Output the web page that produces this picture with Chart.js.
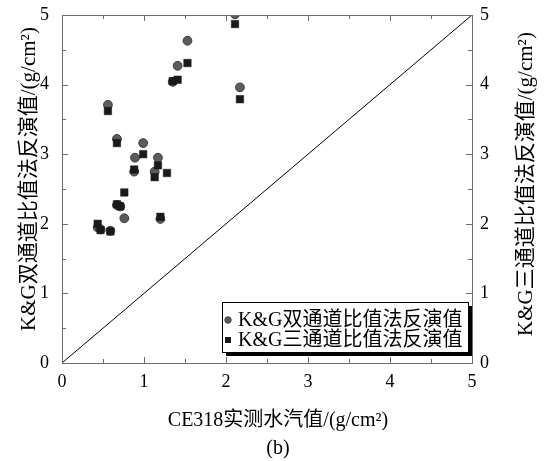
<!DOCTYPE html>
<html>
<head>
<meta charset="utf-8">
<script src="https://cdn.jsdelivr.net/npm/chart.js@4/dist/chart.umd.min.js"></script>
<style>
html,body{margin:0;padding:0;background:#fff;}
#wrap{width:560px;height:461px;position:relative;}
</style>
</head>
<body>
<div id="wrap"><canvas id="c" width="560" height="461"></canvas></div>
<script>
// ---- data ----
const dualX = [0.435,0.47,0.59,0.56,0.67,0.67,0.71,0.76,0.88,0.89,0.99,1.13,1.17,1.20,1.35,1.41,1.53,2.11,2.17];
const dualY = [1.95,1.92,1.90,3.71,3.22,2.27,2.25,2.08,2.75,2.95,3.16,2.75,2.95,2.07,4.04,4.27,4.63,5.01,3.96];
const triX  = [0.435,0.47,0.59,0.56,0.67,0.67,0.71,0.76,0.88,0.99,1.13,1.17,1.20,1.28,1.35,1.41,1.53,2.11,2.17];
const triY  = [2.00,1.91,1.89,3.62,3.16,2.28,2.25,2.45,2.78,3.00,2.67,2.84,2.10,2.73,4.05,4.07,4.31,4.87,3.79];
const lineX = [0,5];
const lineY = [0,5];
const axisMin = 0, axisMax = 5;
const dualLabel = 'K&G双通道比值法反演值';
const triLabel  = 'K&G三通道比值法反演值';
const xTitle = 'CE318实测水汽值/(g/cm²)';
const yTitle = 'K&G双通道比值法反演值/(g/cm²)';
const y2Title = 'K&G三通道比值法反演值/(g/cm²)';
const caption = '(b)';

const FONT = "'Liberation Serif','Noto Sans CJK SC',serif";
const toPts = (xs, ys) => xs.map((x, i) => ({x, y: ys[i]}));

const framePlugin = {
  id: 'frame',
  afterDatasetsDraw(chart) {
    const {ctx, chartArea: a, scales} = chart;
    ctx.save();
    ctx.strokeStyle = '#6e6e6e';
    ctx.lineWidth = 1;
    ctx.strokeRect(Math.round(a.left)+0.5, Math.round(a.top)+0.5, Math.round(a.right-a.left), Math.round(a.bottom-a.top));
    ctx.beginPath();
    for (let v = axisMin; v <= axisMax + 1e-9; v += 0.5) {
      const major = Math.abs(v - Math.round(v)) < 1e-9;
      const L = major ? 6 : 4;
      const px = Math.round(scales.x.getPixelForValue(v)) + 0.5;
      const py = Math.round(scales.y.getPixelForValue(v)) + 0.5;
      ctx.moveTo(px, a.bottom); ctx.lineTo(px, a.bottom - L);
      ctx.moveTo(px, a.top); ctx.lineTo(px, a.top + L);
      ctx.moveTo(a.left, py); ctx.lineTo(a.left + L, py);
      ctx.moveTo(a.right, py); ctx.lineTo(a.right - L, py);
    }
    ctx.stroke();
    ctx.restore();
  },
  afterDraw(chart) {
    const {ctx, chartArea: a} = chart;
    ctx.save();
    ctx.fillStyle = '#000';
    ctx.textAlign = 'center';
    ctx.textBaseline = 'middle';
    ctx.font = "20px " + FONT;
    ctx.fillText(xTitle, 278, 421);
    ctx.fillText(caption, 278, 449);
    ctx.font = "21px " + FONT;
    ctx.save(); ctx.translate(29, 179); ctx.rotate(-Math.PI/2); ctx.fillText(yTitle, 0, 0); ctx.restore();
    ctx.save(); ctx.translate(526, 184); ctx.rotate(-Math.PI/2); ctx.fillText(y2Title, 0, 0); ctx.restore();

    // legend box
    const ds = chart.data.datasets;
    const bx = a.right - 250, by = a.bottom - 61, bw = 246, bh = 50;
    ctx.fillStyle = '#000';
    ctx.fillRect(bx + 4, by + 4, bw, bh);
    ctx.fillStyle = '#fff';
    ctx.fillRect(bx, by, bw, bh);
    ctx.strokeStyle = '#000';
    ctx.lineWidth = 1;
    ctx.strokeRect(bx + 0.5, by + 0.5, bw, bh);
    [ds[0], ds[1]].forEach((d, i) => {
      const cy = by + 18 + i * 20;
      const mx = bx + 6;
      ctx.fillStyle = d.backgroundColor;
      ctx.strokeStyle = d.borderColor;
      if (d.pointStyle === 'rect') {
        ctx.fillRect(mx - 3, cy - 3, 6, 6);
      } else {
        ctx.beginPath(); ctx.arc(mx, cy, 3.2, 0, Math.PI*2); ctx.fill(); ctx.stroke();
      }
      ctx.fillStyle = '#000';
      ctx.textAlign = 'left';
      ctx.font = "20px " + FONT;
      ctx.fillText(d.label, bx + 16, cy + 1);
    });
    ctx.restore();
  }
};

const noPad = s => { s.paddingTop = 0; s.paddingBottom = 0; s.paddingLeft = 0; s.paddingRight = 0; };

new Chart(document.getElementById('c'), {
  type: 'scatter',
  data: {
    datasets: [
      {
        label: dualLabel,
        data: toPts(dualX, dualY),
        pointStyle: 'circle',
        pointRadius: 4.4,
        backgroundColor: '#5c5c5c',
        borderColor: '#3a3a3a',
        borderWidth: 1,
        clip: 0,
        order: 2
      },
      {
        label: triLabel,
        data: toPts(triX, triY),
        pointStyle: 'rect',
        pointRadius: 5.3,
        backgroundColor: '#1a1a1a',
        borderColor: '#1a1a1a',
        borderWidth: 0.5,
        clip: 0,
        order: 1
      },
      {
        type: 'line',
        label: '1:1',
        data: toPts(lineX, lineY),
        borderColor: '#000',
        borderWidth: 1,
        pointRadius: 0,
        fill: false,
        clip: 0,
        order: 3
      }
    ]
  },
  options: {
    responsive: false,
    animation: false,
    devicePixelRatio: 1,
    layout: { padding: { top: 15, left: 0, right: 0, bottom: 0 } },
    plugins: { legend: { display: false }, tooltip: { enabled: false } },
    scales: {
      x: {
        type: 'linear', position: 'bottom', min: axisMin, max: axisMax,
        ticks: { stepSize: 1, color: '#000', font: { family: FONT, size: 18 }, padding: 8 },
        grid: { display: false, drawTicks: false },
        border: { display: false },
        afterFit: s => { s.height = 98; noPad(s); }
      },
      y: {
        type: 'linear', position: 'left', min: axisMin, max: axisMax,
        ticks: { stepSize: 1, color: '#000', font: { family: FONT, size: 18 }, padding: 13 },
        grid: { display: false, drawTicks: false },
        border: { display: false },
        afterFit: s => { s.width = 62; noPad(s); }
      },
      y2: {
        type: 'linear', position: 'right', min: axisMin, max: axisMax,
        ticks: { stepSize: 1, color: '#000', font: { family: FONT, size: 18 }, padding: 8 },
        grid: { display: false, drawTicks: false },
        border: { display: false },
        afterFit: s => { s.width = 88; noPad(s); }
      }
    }
  },
  plugins: [framePlugin]
});
</script>
</body>
</html>
